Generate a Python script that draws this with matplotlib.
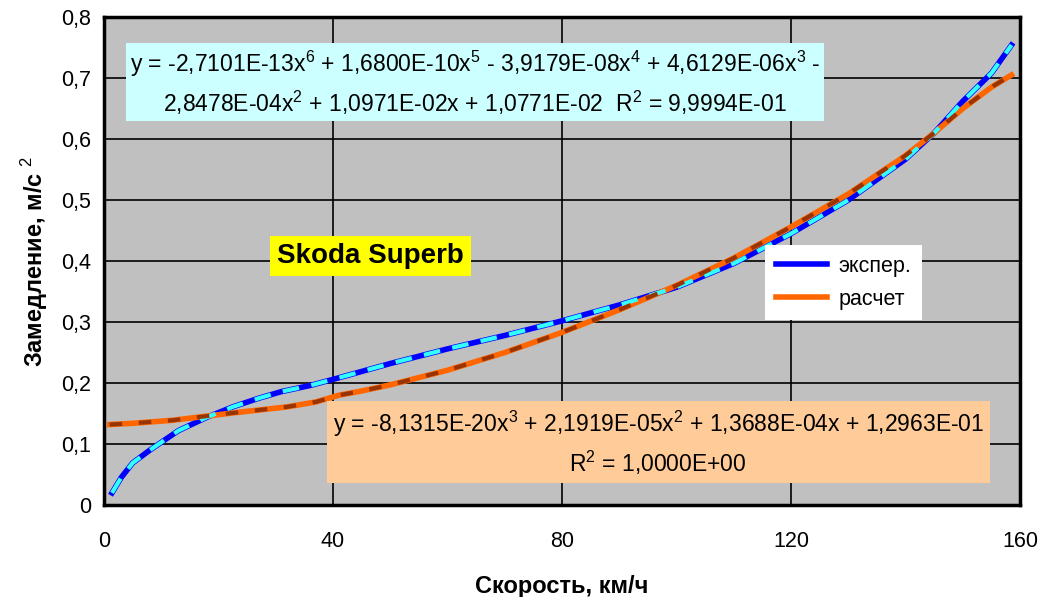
import matplotlib.pyplot as plt
from matplotlib.ticker import FuncFormatter

plt.rcParams['font.family'] = ['Liberation Sans', 'DejaVu Sans']
plt.rcParams['mathtext.fontset'] = 'custom'
plt.rcParams['mathtext.rm'] = 'Liberation Sans'
plt.rcParams['mathtext.bf'] = 'Liberation Sans:bold'

v_exp = [1.4, 3, 5, 8, 13, 18, 22.5, 27, 31, 36, 40, 50, 60, 70, 80, 90, 100, 110, 120, 130, 140, 145, 150, 155, 158.5]
a_exp = [0.02, 0.045, 0.069, 0.09, 0.122, 0.144, 0.161, 0.175, 0.186, 0.196, 0.206, 0.232, 0.256, 0.278, 0.302, 0.328, 0.357, 0.396, 0.445, 0.5, 0.567, 0.61, 0.662, 0.708, 0.754]

# calculated curve
v_calc = [1, 5, 12, 22.5, 32, 37, 41, 45, 50, 60, 70, 80, 90, 100, 110, 120, 130, 140, 145, 150, 155, 158.5]
a_calc = [0.132, 0.134, 0.139, 0.151, 0.161, 0.169, 0.18, 0.187, 0.197, 0.221, 0.25, 0.283, 0.32, 0.36, 0.405, 0.456, 0.51, 0.573, 0.61, 0.65, 0.685, 0.705]

eq_exp = ('y = -2,7101E-13x$^6$ + 1,6800E-10x$^5$ - 3,9179E-08x$^4$ + 4,6129E-06x$^3$ -\n'
          '2,8478E-04x$^2$ + 1,0971E-02x + 1,0771E-02  R$^2$ = 9,9994E-01')
eq_calc = ('y = -8,1315E-20x$^3$ + 2,1919E-05x$^2$ + 1,3688E-04x + 1,2963E-01\n'
           'R$^2$ = 1,0000E+00')

fig = plt.figure(figsize=(10.47, 5.97), dpi=100)
ax = fig.add_axes([0.0993, 0.154, 0.875, 0.8175])
ax.set_facecolor('#C0C0C0')

ax.plot(v_exp, a_exp, color='#0000FF', lw=4, label='экспер.', zorder=3)
ax.plot(v_exp, a_exp, color='#33FFFF', lw=3, dashes=(4, 3), zorder=4)
ax.plot(v_calc, a_calc, color='#FF6600', lw=4, label='расчет', zorder=3)
ax.plot(v_calc, a_calc, color='#993300', lw=3, dashes=(3, 4), zorder=4)

ax.set_xlim(0, 160)
ax.set_ylim(0, 0.8)
ax.set_xticks([0, 40, 80, 120, 160])
ax.set_yticks([0, 0.1, 0.2, 0.3, 0.4, 0.5, 0.6, 0.7, 0.8])
ax.yaxis.set_major_formatter(FuncFormatter(lambda y, p: '0' if y == 0 else ('%.1f' % y).replace('.', ',')))
ax.grid(True, color='black', lw=1.2)
ax.set_axisbelow(True)
ax.tick_params(labelsize=15.5, length=0)
ax.tick_params(axis='y', pad=9)
ax.tick_params(axis='x', pad=19)
for s in ax.spines.values():
    s.set_linewidth(2.5)

ax.set_xlabel('Скорость, км/ч', fontsize=17, fontweight='bold', labelpad=16)
ax.set_ylabel('Замедление, м/с $^2$', fontsize=17, fontweight='bold', labelpad=8)

ax.text(64.8, 0.692, eq_exp, fontsize=16.5, ha='center', va='center', linespacing=1.45, zorder=5,
        bbox=dict(boxstyle='square,pad=0.15', fc='#CCFFFF', ec='none'))
ax.text(96.8, 0.1016, eq_calc, fontsize=16.5, ha='center', va='center', linespacing=1.45, zorder=5,
        bbox=dict(boxstyle='square,pad=0.25', fc='#FFCC99', ec='none'))
ax.text(46.6, 0.408, 'Skoda Superb', fontsize=20, fontweight='bold', ha='center', va='center', zorder=5,
        bbox=dict(boxstyle='square,pad=0.25', fc='#FFFF00', ec='none'))

leg = ax.legend(loc='upper left', bbox_to_anchor=(0.7216, 0.533), borderaxespad=0, fontsize=15.5, frameon=True,
                fancybox=False, edgecolor='none', framealpha=1, handlelength=2.4, handletextpad=0.5,
                borderpad=0.5, labelspacing=0.55)
leg.set_zorder(6)

fig.savefig('out.png', dpi=100)
